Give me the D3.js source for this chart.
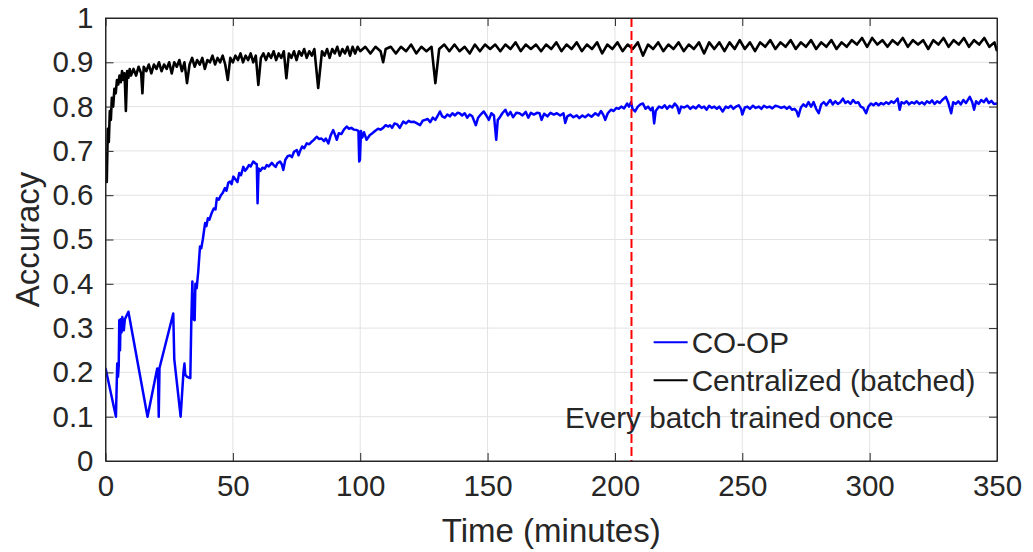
<!DOCTYPE html>
<html>
<head>
<meta charset="utf-8">
<script src="https://d3js.org/d3.v7.min.js"></script>
<style>
  body { margin: 0; background: #fff; }
  text { font-family: "Liberation Sans", Arial, sans-serif; fill: #262626; }
</style>
</head>
<body>
<svg id="drawing_region"></svg>
<script>
// CO-OP (blue) — time in minutes, accuracy
const coopTime = [0, 4.1, 4.6, 4.9, 5.2, 5.4, 5.7, 5.9, 6.3, 6.6, 7.2, 7.6, 9.0, 16.5, 20.3, 20.6, 20.9, 21.2, 26.6, 27, 29.5, 30.6, 31, 31.3, 32, 33.3, 33.7, 34.1, 34.5, 35, 35.3, 35.8, 36.4, 37.1, 37.6, 38.2, 39.1, 39.6, 40.2, 40.8, 41.7, 42.5, 43.2, 43.7, 44.5, 45.3, 46, 46.9, 47.5, 48.2, 48.9, 49.5, 50.2, 51, 51.8, 52.5, 53.2, 54.1, 54.8, 55.5, 56.3, 57, 58, 58.8, 59.4, 59.7, 60.1, 60.8, 61.6, 62.5, 63.3, 64.1, 65.3, 66, 66.8, 67.5, 68.5, 69.2, 69.8, 70.6, 71.5, 72.4, 73.2, 74, 75.1, 75.8, 76.4, 77.2, 78, 79, 80, 80.8, 81.8, 82.9, 83.8, 84.8, 85.8, 86.5, 87.5, 88.4, 89.4, 90.2, 90.8, 91.6, 92.6, 93.6, 94.7, 95.6, 96.5, 97.5, 98.6, 99.3, 99.6, 99.9, 100.3, 100.8, 101.5, 102.5, 103.8, 104.8, 105.8, 107, 108, 109, 110, 111, 111.7, 112.5, 113.5, 114.5, 115.5, 116.9, 118, 119, 120, 121, 122.3, 123.5, 124.5, 125.5, 126.5, 127.5, 128.5, 129.5, 130.5, 131.3, 132.2, 133.2, 134.2, 135.2, 136.2, 137.2, 138.2, 139, 140, 141, 142, 143, 144, 145.4, 146.3, 147.3, 148.5, 149.5, 150.5, 151.5, 152.5, 153.4, 154, 154.6, 155.8, 157, 158, 159, 160, 161.3, 162.5, 163.7, 165, 166, 167, 168.2, 169.4, 170.4, 171.2, 172.2, 173.5, 174.7, 176, 177.2, 178.5, 179.8, 180.5, 181.3, 182.5, 183.7, 185, 186, 187.2, 188.3, 189.5, 190.8, 192.3, 193.5, 194.5, 195.4, 196.2, 197.2, 198.5, 199.5, 200.5, 201.5, 202.5, 203.6, 204.8, 205.5, 206.3, 206.9, 207.9, 209, 210, 211, 212, 213, 214, 214.8, 215.4, 216, 217.3, 218.5, 219.5, 220.5, 221.5, 222.5, 223.5, 224.5, 225.2, 226, 227.2, 228.5, 229.6, 230.7, 231.8, 232.9, 234, 235, 236, 237, 238, 239, 240, 241, 242.3, 243.5, 244.5, 245.5, 246.5, 247.5, 248.6, 249.5, 250, 251, 252, 253, 254.2, 255.3, 256.5, 257.5, 258.5, 259.6, 260.7, 261.8, 263, 264.2, 265.3, 266.5, 267.5, 268.5, 269.5, 270.5, 271.3, 272, 273, 274, 275, 276, 277, 278, 279, 280, 281, 282, 283, 284.5, 285.5, 286.5, 287.5, 288.5, 289.5, 290.5, 291.5, 292.5, 293.5, 294.5, 295.5, 296.5, 297.5, 298.6, 299.5, 300.5, 301.5, 302.5, 303.5, 304.5, 305.5, 306.5, 307.5, 308.5, 309.5, 311, 311.8, 312.5, 313.5, 314.5, 315.5, 316.5, 317.5, 318.5, 319.5, 320.5, 321.5, 322.5, 323.5, 324.5, 325.5, 326.5, 327.5, 328.5, 329.9, 330.8, 332, 332.8, 333.8, 334.8, 335.8, 336.8, 337.8, 339.3, 340.3, 341, 341.8, 342.8, 343.8, 344.8, 345.8, 346.8, 347.8, 348.8, 350];
const coopAcc = [0.21, 0.1, 0.22, 0.19, 0.215, 0.318, 0.25, 0.32, 0.29, 0.325, 0.295, 0.32, 0.337, 0.1, 0.209, 0.2, 0.1, 0.21, 0.333, 0.23, 0.1, 0.2, 0.22, 0.195, 0.19, 0.187, 0.318, 0.405, 0.32, 0.318, 0.4, 0.39, 0.427, 0.484, 0.48, 0.5, 0.537, 0.53, 0.548, 0.545, 0.56, 0.57, 0.568, 0.593, 0.59, 0.6, 0.605, 0.616, 0.61, 0.628, 0.631, 0.625, 0.642, 0.636, 0.63, 0.65, 0.645, 0.664, 0.655, 0.66, 0.668, 0.665, 0.676, 0.672, 0.67, 0.582, 0.66, 0.655, 0.662, 0.66, 0.668, 0.665, 0.673, 0.668, 0.664, 0.672, 0.676, 0.67, 0.657, 0.68, 0.688, 0.69, 0.686, 0.698, 0.702, 0.69, 0.7, 0.71, 0.706, 0.717, 0.715, 0.72, 0.725, 0.732, 0.727, 0.728, 0.722, 0.728, 0.717, 0.735, 0.747, 0.735, 0.725, 0.74, 0.738, 0.748, 0.755, 0.75, 0.752, 0.748, 0.747, 0.745, 0.676, 0.68, 0.745, 0.73, 0.742, 0.725, 0.736, 0.74, 0.745, 0.75, 0.748, 0.752, 0.758, 0.755, 0.758, 0.752, 0.762, 0.76, 0.752, 0.766, 0.762, 0.768, 0.765, 0.766, 0.762, 0.758, 0.768, 0.77, 0.772, 0.765, 0.775, 0.77, 0.78, 0.789, 0.778, 0.775, 0.782, 0.778, 0.785, 0.78, 0.786, 0.785, 0.78, 0.785, 0.775, 0.782, 0.778, 0.758, 0.775, 0.782, 0.789, 0.78, 0.77, 0.785, 0.78, 0.725, 0.77, 0.774, 0.785, 0.793, 0.78, 0.788, 0.776, 0.786, 0.785, 0.78, 0.788, 0.775, 0.786, 0.782, 0.786, 0.785, 0.77, 0.784, 0.778, 0.786, 0.782, 0.785, 0.78, 0.785, 0.763, 0.778, 0.782, 0.776, 0.78, 0.774, 0.78, 0.776, 0.782, 0.777, 0.785, 0.78, 0.79, 0.782, 0.77, 0.785, 0.793, 0.79, 0.797, 0.795, 0.8, 0.796, 0.807, 0.8, 0.81, 0.795, 0.789, 0.8, 0.805, 0.807, 0.795, 0.8, 0.792, 0.798, 0.762, 0.79, 0.8, 0.797, 0.803, 0.795, 0.802, 0.798, 0.807, 0.8, 0.785, 0.8, 0.798, 0.802, 0.795, 0.8, 0.796, 0.803, 0.797, 0.8, 0.793, 0.802, 0.797, 0.8, 0.795, 0.8, 0.789, 0.8, 0.797, 0.802, 0.795, 0.8, 0.803, 0.795, 0.782, 0.798, 0.8, 0.795, 0.802, 0.797, 0.8, 0.795, 0.802, 0.798, 0.8, 0.796, 0.802, 0.8, 0.797, 0.8, 0.795, 0.8, 0.793, 0.795, 0.79, 0.778, 0.798, 0.805, 0.8, 0.81, 0.8, 0.81, 0.795, 0.785, 0.805, 0.81, 0.803, 0.815, 0.805, 0.812, 0.806, 0.81, 0.818, 0.808, 0.812, 0.806, 0.815, 0.808, 0.81, 0.8, 0.797, 0.785, 0.8, 0.807, 0.803, 0.808, 0.803, 0.808, 0.805, 0.81, 0.806, 0.812, 0.808, 0.818, 0.793, 0.81, 0.807, 0.812, 0.805, 0.81, 0.807, 0.812, 0.806, 0.81, 0.805, 0.812, 0.808, 0.814, 0.806, 0.812, 0.808, 0.815, 0.822, 0.81, 0.785, 0.81, 0.806, 0.812, 0.805, 0.815, 0.808, 0.822, 0.81, 0.793, 0.812, 0.806, 0.815, 0.81, 0.818, 0.808, 0.813, 0.806, 0.807];

// Centralized (batched) (black)
const centTime = [0, 0.5, 0.9, 1.3, 1.7, 2.1, 2.5, 3, 3.5, 4, 4.5, 5, 5.5, 6, 6.5, 7, 7.5, 8, 8.5, 9, 9.5, 10, 11, 12, 13, 14, 14.5, 15, 16, 17, 18, 19, 20, 21, 22, 23, 24, 25, 26, 27, 28, 29, 30, 31, 32, 33, 34, 35, 36, 37, 38, 39, 40, 41, 42, 43, 44, 45, 46, 47, 48, 49, 50, 51, 52, 53, 54, 55, 56, 57, 58, 59, 60, 61, 62, 63, 64, 65, 66, 67, 68, 69, 70, 71, 72, 73, 74, 75, 76, 77, 78, 79, 80, 81, 82, 83.5, 85, 86, 87, 88, 89, 90, 91, 92, 93, 94, 95, 96, 97, 98, 99, 100, 102, 104, 106, 108, 109, 110, 112, 114, 116, 118, 120, 122, 124, 126, 128, 129.5, 131, 133, 135, 137, 139, 141, 143, 145, 147, 149, 151, 153, 155, 157, 159, 161, 163, 165, 167, 169, 171, 173, 175, 177, 179, 181, 183, 185, 187, 189, 191, 193, 195, 197, 199, 201, 203, 205, 207, 209, 211, 213, 215, 217, 219, 221, 223, 225, 227, 229, 231, 233, 235, 237, 239, 241, 243, 245, 247, 249, 251, 253, 255, 257, 259, 261, 263, 265, 267, 269, 271, 273, 275, 277, 279, 281, 283, 285, 287, 289, 291, 293, 295, 297, 299, 301, 303, 305, 307, 309, 311, 313, 315, 317, 319, 321, 323, 325, 327, 329, 331, 333, 335, 337, 339, 341, 343, 345, 347, 349, 350];
const centAcc = [0.68, 0.63, 0.75, 0.72, 0.79, 0.77, 0.82, 0.8, 0.84, 0.83, 0.86, 0.85, 0.87, 0.855, 0.88, 0.86, 0.875, 0.79, 0.88, 0.865, 0.885, 0.87, 0.885, 0.87, 0.89, 0.875, 0.83, 0.89, 0.88, 0.895, 0.875, 0.895, 0.885, 0.9, 0.88, 0.895, 0.885, 0.9, 0.875, 0.9, 0.89, 0.905, 0.88, 0.9, 0.853, 0.895, 0.91, 0.89, 0.905, 0.895, 0.91, 0.885, 0.905, 0.9, 0.915, 0.895, 0.91, 0.9, 0.915, 0.895, 0.86, 0.91, 0.9, 0.915, 0.905, 0.92, 0.9, 0.915, 0.905, 0.92, 0.9, 0.915, 0.849, 0.91, 0.92, 0.905, 0.92, 0.91, 0.925, 0.905, 0.92, 0.91, 0.925, 0.864, 0.92, 0.91, 0.925, 0.905, 0.925, 0.915, 0.93, 0.91, 0.925, 0.915, 0.93, 0.842, 0.925, 0.915, 0.93, 0.91, 0.93, 0.92, 0.935, 0.915, 0.93, 0.92, 0.935, 0.915, 0.935, 0.92, 0.935, 0.925, 0.935, 0.92, 0.935, 0.925, 0.9, 0.93, 0.935, 0.92, 0.935, 0.925, 0.94, 0.92, 0.935, 0.925, 0.935, 0.853, 0.93, 0.94, 0.925, 0.94, 0.925, 0.935, 0.92, 0.94, 0.925, 0.94, 0.93, 0.94, 0.925, 0.94, 0.93, 0.945, 0.925, 0.94, 0.93, 0.94, 0.925, 0.94, 0.93, 0.945, 0.925, 0.94, 0.93, 0.945, 0.925, 0.94, 0.93, 0.945, 0.92, 0.94, 0.93, 0.945, 0.925, 0.94, 0.93, 0.945, 0.915, 0.94, 0.93, 0.945, 0.925, 0.94, 0.93, 0.945, 0.925, 0.94, 0.93, 0.945, 0.92, 0.945, 0.93, 0.945, 0.925, 0.945, 0.93, 0.95, 0.93, 0.945, 0.925, 0.945, 0.935, 0.95, 0.93, 0.945, 0.935, 0.95, 0.93, 0.945, 0.935, 0.95, 0.93, 0.945, 0.935, 0.95, 0.93, 0.945, 0.935, 0.95, 0.94, 0.955, 0.935, 0.955, 0.94, 0.95, 0.935, 0.95, 0.94, 0.955, 0.935, 0.95, 0.94, 0.95, 0.93, 0.95, 0.94, 0.955, 0.935, 0.95, 0.94, 0.955, 0.935, 0.95, 0.94, 0.955, 0.935, 0.945, 0.925];

const xTicks = [0, 50, 100, 150, 200, 250, 300, 350];
const yTicks = [0, 0.1, 0.2, 0.3, 0.4, 0.5, 0.6, 0.7, 0.8, 0.9, 1];
const seriesNames = ["CO-OP", "Centralized (batched)"];
const seriesColors = ["#0000ff", "#000000"];
const markerTime = 206.5;
const markerLabel = "Every batch trained once";

class LineChart {

    constructor( config ) {
        this.config = config;
        this.init();
    }

    init() {
        let self = this;
        const m = self.config.margin;

        self.svg = d3.select( self.config.parent )
            .attr('width', self.config.width)
            .attr('height', self.config.height);

        self.inner_width = self.config.width - m.left - m.right;
        self.inner_height = self.config.height - m.top - m.bottom;

        self.chart = self.svg.append('g')
            .attr('transform', `translate(${m.left}, ${m.top})`);

        self.xscale = d3.scaleLinear()
            .domain([0, 350])
            .range([0, self.inner_width]);

        self.yscale = d3.scaleLinear()
            .domain([0, 1])
            .range([self.inner_height, 0]);

        self.svg.append('defs').append('clipPath')
            .attr('id', 'plotclip')
          .append('rect')
            .attr('width', self.inner_width)
            .attr('height', self.inner_height);
    }

    render() {
        let self = this;
        const W = self.inner_width, H = self.inner_height;
        const tick = 8;

        // grid
        const grid = self.chart.append('g');
        grid.selectAll('.gx').data(xTicks.slice(1, -1)).enter()
            .append('line')
            .attr('x1', d => self.xscale(d)).attr('x2', d => self.xscale(d))
            .attr('y1', 0).attr('y2', H)
            .attr('stroke', '#e3e3e3').attr('stroke-width', 1);
        grid.selectAll('.gy').data(yTicks.slice(1, -1)).enter()
            .append('line')
            .attr('y1', d => self.yscale(d)).attr('y2', d => self.yscale(d))
            .attr('x1', 0).attr('x2', W)
            .attr('stroke', '#e3e3e3').attr('stroke-width', 1);

        // data lines
        const lines = self.chart.append('g').attr('clip-path', 'url(#plotclip)');
        const line = d3.line()
            .x(d => self.xscale(d[0]))
            .y(d => self.yscale(d[1]));

        const coop = coopTime.map((t, i) => [t, coopAcc[i]]);
        const cent = centTime.map((t, i) => [t, centAcc[i]]);

        lines.append('path')
            .datum(coop)
            .attr('d', line)
            .attr('fill', 'none')
            .attr('stroke', seriesColors[0])
            .attr('stroke-width', 2.5)
            .attr('stroke-linejoin', 'round');

        lines.append('path')
            .datum(cent)
            .attr('d', line)
            .attr('fill', 'none')
            .attr('stroke', seriesColors[1])
            .attr('stroke-width', 2.6)
            .attr('stroke-linejoin', 'round');

        // vertical marker
        lines.append('line')
            .attr('x1', self.xscale(markerTime)).attr('x2', self.xscale(markerTime))
            .attr('y1', 0).attr('y2', H)
            .attr('stroke', '#ff0000')
            .attr('stroke-width', 2)
            .attr('stroke-dasharray', '9,4');

        // axes (box with inward ticks on all sides)
        self.xaxis_group = self.chart.append('g')
            .attr('transform', `translate(0, ${H})`)
            .call(d3.axisBottom(self.xscale).tickValues(xTicks).tickSize(-tick).tickSizeOuter(0).tickPadding(14));
        self.chart.append('g')
            .call(d3.axisTop(self.xscale).tickValues(xTicks).tickSize(-tick).tickSizeOuter(0).tickFormat(''));
        self.yaxis_group = self.chart.append('g')
            .call(d3.axisLeft(self.yscale).tickValues(yTicks).tickSize(-tick).tickSizeOuter(0).tickPadding(12).tickFormat(d3.format('')));
        self.chart.append('g')
            .attr('transform', `translate(${W}, 0)`)
            .call(d3.axisRight(self.yscale).tickValues(yTicks).tickSize(-tick).tickSizeOuter(0).tickFormat(''));

        self.chart.selectAll('.domain').attr('stroke', '#262626');
        self.chart.selectAll('.tick line').attr('stroke', '#262626');
        self.chart.selectAll('.tick text')
            .attr('font-size', 29.5)
            .attr('font-family', '"Liberation Sans", Arial, sans-serif')
            .attr('fill', '#262626');
        self.xaxis_group.selectAll('.tick text').attr('dy', '0.72em');

        self.chart.append('rect')
            .attr('width', W).attr('height', H)
            .attr('fill', 'none')
            .attr('stroke', '#262626')
            .attr('stroke-width', 1);

        // axis labels
        self.chart.append('text')
            .attr('x', W / 2)
            .attr('y', H + 69)
            .attr('text-anchor', 'middle')
            .attr('dominant-baseline', 'central')
            .attr('font-size', 33)
            .text('Time (minutes)');

        self.chart.append('text')
            .attr('transform', `translate(${-78}, ${H / 2}) rotate(-90)`)
            .attr('text-anchor', 'middle')
            .attr('dominant-baseline', 'central')
            .attr('font-size', 33)
            .text('Accuracy');

        // legend
        const legend = self.chart.append('g')
            .attr('transform', `translate(${self.xscale(215.2)}, ${self.yscale(0.268)})`);
        seriesNames.forEach((name, i) => {
            legend.append('line')
                .attr('x1', 0).attr('x2', 34)
                .attr('y1', i * 38).attr('y2', i * 38)
                .attr('stroke', seriesColors[i])
                .attr('stroke-width', 2);
            legend.append('text')
                .attr('x', 38)
                .attr('y', i * 38)
                .attr('dominant-baseline', 'central')
                .attr('font-size', 29.7)
                .text(name);
        });

        // marker annotation
        self.chart.append('text')
            .attr('x', self.xscale(180.4))
            .attr('y', self.yscale(0.099))
            .attr('dominant-baseline', 'central')
            .attr('font-size', 29.7)
            .text(markerLabel);
    }
}

const config = {
    parent: '#drawing_region',
    width: 1033,
    height: 552,
    margin: {top: 18, right: 36, bottom: 91, left: 105.5}
};

const chart = new LineChart( config );
chart.render();
</script>
</body>
</html>
